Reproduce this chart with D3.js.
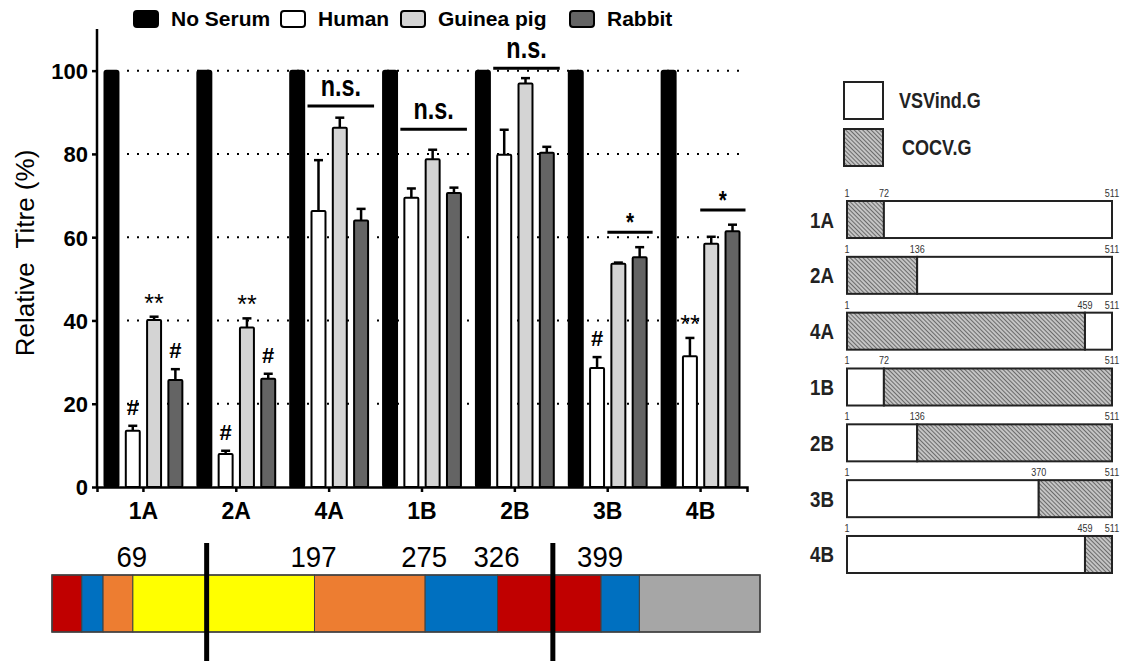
<!DOCTYPE html>
<html>
<head>
<meta charset="utf-8">
<script src="https://cdn.jsdelivr.net/npm/d3@7"></script>
<style>
  body { margin: 0; background: #fff; }
  svg { display: block; }
  text { font-family: Arial, "Liberation Sans", sans-serif; }
</style>
</head>
<body>
<svg width="1125" height="661"></svg>
<script>
// ---- data ----
const categories = ["1A", "2A", "4A", "1B", "2B", "3B", "4B"];
const seriesNames = ["No Serum", "Human", "Guinea pig", "Rabbit"];
const seriesColors = ["#000000", "#ffffff", "#d4d4d4", "#646464"];

const noSerum = [100, 100, 100, 100, 100, 100, 100];
const noSerumErr = [0, 0, 0, 0, 0, 0, 0];
const human = [13.5, 7.9, 66.3, 69.5, 79.8, 28.6, 31.4];
const humanErr = [1.2, 0.8, 12.2, 2.2, 6.0, 2.6, 4.4];
const guinea = [40.1, 38.3, 86.3, 78.7, 96.9, 53.6, 58.4];
const guineaErr = [0.8, 2.2, 2.4, 2.3, 1.3, 0.3, 1.7];
const rabbit = [25.7, 26.0, 64.0, 70.6, 80.3, 55.2, 61.4];
const rabbitErr = [2.6, 1.2, 2.8, 1.3, 1.4, 2.4, 1.6];

const yTicks = [0, 20, 40, 60, 80, 100];

// marks over single bars
const barMarks = [
  { cat: "1A", series: "Human", text: "#" },
  { cat: "1A", series: "Guinea pig", text: "**" },
  { cat: "1A", series: "Rabbit", text: "#" },
  { cat: "2A", series: "Human", text: "#" },
  { cat: "2A", series: "Guinea pig", text: "**" },
  { cat: "2A", series: "Rabbit", text: "#" },
  { cat: "3B", series: "Human", text: "#" },
  { cat: "4B", series: "Human", text: "**" }
];
// significance bars (level in % units)
const brackets = [
  { cat: "4A", from: "Human", to: "Rabbit", level: 91.5, text: "n.s." },
  { cat: "1B", from: "Human", to: "Rabbit", level: 85.9, text: "n.s." },
  { cat: "2B", from: "Human", to: "Rabbit", level: 100.6, text: "n.s." },
  { cat: "3B", from: "Guinea pig", to: "Rabbit", level: 61.2, text: "*" },
  { cat: "4B", from: "Guinea pig", to: "Rabbit", level: 66.5, text: "*" }
];

// domain bar under the chart (residue numbers)
const segBreaks = [12, 33, 48, 69, 197, 275, 326, 399, 426, 511];
const segColors = ["#c00000", "#0070c0", "#ed7d31", "#ffff00", "#ed7d31", "#0070c0", "#c00000", "#0070c0", "#a6a6a6"];
const segLabels = [69, 197, 275, 326, 399];
const cutSites = [121, 365];

// chimera maps on the right
const constructs = ["1A", "2A", "4A", "1B", "2B", "3B", "4B"];
const junctions = [72, 136, 459, 72, 136, 370, 459];
const cocvFirst = [true, true, true, false, false, false, false];
const proteinLength = 511;

// ---- chart ----
const svg = d3.select("svg");

const values = [noSerum, human, guinea, rabbit];
const errors = [noSerumErr, humanErr, guineaErr, rabbitErr];

const y = d3.scaleLinear().domain([0, 110]).range([487, 29]);
const x0 = d3.scaleBand().domain(categories).range([97, 747])
  .paddingInner(0.14).paddingOuter(0.07);
const x1 = d3.scaleBand().domain(seriesNames).range([0, x0.bandwidth()])
  .paddingInner(0.25).paddingOuter(0);

// dotted grid
svg.append("g")
  .selectAll("line")
  .data(yTicks.filter(d => d > 0))
  .join("line")
  .attr("x1", x0.range()[0] + 30)
  .attr("x2", x0.range()[1])
  .attr("y1", d => y(d))
  .attr("y2", d => y(d))
  .attr("stroke", "#000")
  .attr("stroke-width", 2)
  .attr("stroke-dasharray", "2,8");

// bars
const groups = svg.append("g")
  .selectAll("g")
  .data(categories)
  .join("g")
  .attr("transform", d => `translate(${x0(d)},0)`);

groups.each(function (cat, ci) {
  const g = d3.select(this);
  seriesNames.forEach((s, si) => {
    const v = values[si][ci];
    const e = errors[si][ci];
    const bx = x1(s);
    const bw = x1.bandwidth();
    if (e > 0) {
      g.append("line")
        .attr("x1", bx + bw / 2).attr("x2", bx + bw / 2)
        .attr("y1", y(v)).attr("y2", y(v + e))
        .attr("stroke", "#000").attr("stroke-width", 2.5);
      g.append("line")
        .attr("x1", bx + bw / 2 - 4.5).attr("x2", bx + bw / 2 + 4.5)
        .attr("y1", y(v + e)).attr("y2", y(v + e))
        .attr("stroke", "#000").attr("stroke-width", 2.5);
    }
    g.append("rect")
      .attr("x", bx + 1)
      .attr("y", y(v))
      .attr("width", bw - 2)
      .attr("height", y(0) - y(v))
      .attr("rx", si === 0 ? 2 : 1)
      .attr("fill", seriesColors[si])
      .attr("stroke", "#000")
      .attr("stroke-width", 2);
  });
});

// axes
const yAxis = svg.append("g")
  .attr("transform", `translate(${x0.range()[0]},0)`)
  .call(d3.axisLeft(y).tickValues(yTicks).tickSize(5).tickPadding(4));
const xAxis = svg.append("g")
  .attr("transform", `translate(0,${y(0)})`)
  .call(d3.axisBottom(x0).tickSize(5).tickPadding(6));

[yAxis, xAxis].forEach(a => {
  a.select(".domain").attr("stroke", "#000").attr("stroke-width", 2.5);
  a.selectAll(".tick line").attr("stroke", "#000").attr("stroke-width", 2.5);
  a.selectAll(".tick text")
    .attr("fill", "#000")
    .style("font-family", "Arial, 'Liberation Sans', sans-serif")
    .style("font-weight", "bold");
});
yAxis.select(".domain").attr("d", `M0,${y(110)}V${y(0)}`);
yAxis.selectAll(".tick text").style("font-size", "22px").attr("dy", "0.36em");
xAxis.selectAll(".tick text").style("font-size", "23px").attr("dy", "0.9em");

svg.append("text")
  .attr("transform", `translate(34,${(y(0) + y(110)) / 2 - 5}) rotate(-90)`)
  .attr("text-anchor", "middle")
  .style("font-size", "26px")
  .style("white-space", "pre")
  .text("Relative  Titre (%)");

// marks above bars
const errTop = (cat, s) => {
  const ci = categories.indexOf(cat), si = seriesNames.indexOf(s);
  return y(values[si][ci] + errors[si][ci]);
};
svg.append("g")
  .selectAll("text")
  .data(barMarks)
  .join("text")
  .attr("x", d => x0(d.cat) + x1(d.series) + x1.bandwidth() / 2)
  .attr("y", d => errTop(d.cat, d.series) - (d.text === "#" ? 11 : 5))
  .attr("text-anchor", "middle")
  .style("font-weight", d => d.text === "#" ? "bold" : "normal")
  .style("font-size", d => d.text === "#" ? "22px" : "25px")
  .text(d => d.text);

const br = svg.append("g")
  .selectAll("g")
  .data(brackets)
  .join("g");
br.append("line")
  .attr("x1", d => x0(d.cat) + x1(d.from) - 3)
  .attr("x2", d => x0(d.cat) + x1(d.to) + x1.bandwidth() + 5)
  .attr("y1", d => y(d.level))
  .attr("y2", d => y(d.level))
  .attr("stroke", "#000")
  .attr("stroke-width", 3);
br.append("text")
  .attr("transform", d => {
    const tx = x0(d.cat) + (x1(d.from) + x1(d.to) + x1.bandwidth()) / 2 + 1;
    const ty = y(d.level) - (d.text === "*" ? 1 : 10);
    return `translate(${tx},${ty}) scale(0.9,1.12)`;
  })
  .attr("text-anchor", "middle")
  .style("font-weight", "bold")
  .style("font-size", d => d.text === "*" ? "23px" : "26px")
  .text(d => d.text);

// legend
const legendX = [133, 280, 400, 569];
const legend = svg.append("g")
  .selectAll("g")
  .data(seriesNames)
  .join("g")
  .attr("transform", (d, i) => `translate(${legendX[i]},10)`);
legend.append("rect")
  .attr("x", 1).attr("y", 1)
  .attr("width", 24).attr("height", 16)
  .attr("rx", 3)
  .attr("fill", (d, i) => seriesColors[i])
  .attr("stroke", "#000")
  .attr("stroke-width", 2);
legend.append("text")
  .attr("x", 38)
  .attr("y", 16)
  .style("font-size", "21px")
  .style("font-weight", "bold")
  .text(d => d);

// ---- domain bar ----
const xd = d3.scaleLinear().domain([segBreaks[0], segBreaks[segBreaks.length - 1]]).range([52, 760]);
const segTop = 575, segH = 57;
svg.append("g")
  .selectAll("rect")
  .data(segColors)
  .join("rect")
  .attr("x", (d, i) => xd(segBreaks[i]))
  .attr("y", segTop)
  .attr("width", (d, i) => xd(segBreaks[i + 1]) - xd(segBreaks[i]))
  .attr("height", segH)
  .attr("fill", d => d)
  .attr("stroke", "#404040")
  .attr("stroke-width", 1);
svg.append("rect")
  .attr("x", xd.range()[0]).attr("y", segTop)
  .attr("width", xd.range()[1] - xd.range()[0]).attr("height", segH)
  .attr("fill", "none").attr("stroke", "#404040").attr("stroke-width", 1.5);
svg.append("g")
  .selectAll("text")
  .data(segLabels)
  .join("text")
  .attr("transform", d => `translate(${xd(d) - 1},567) scale(0.92,1)`)
  .attr("text-anchor", "middle")
  .style("font-size", "30px")
  .text(d => d);
svg.append("g")
  .selectAll("line")
  .data(cutSites)
  .join("line")
  .attr("x1", d => xd(d)).attr("x2", d => xd(d))
  .attr("y1", 543).attr("y2", 661)
  .attr("stroke", "#000")
  .attr("stroke-width", 5);

// ---- chimera maps ----
const defs = svg.append("defs");
const pat = defs.append("pattern")
  .attr("id", "hatch")
  .attr("patternUnits", "userSpaceOnUse")
  .attr("width", 3).attr("height", 3)
  .attr("patternTransform", "rotate(-45)");
pat.append("rect").attr("width", 3).attr("height", 3).attr("fill", "#c4c4c4");
pat.append("line").attr("x1", 0).attr("y1", 0).attr("x2", 0).attr("y2", 3)
  .attr("stroke", "#3a3a3a").attr("stroke-width", 1.3);

const legendMap = [
  { name: "VSVind.G", fill: "#fff", tx: 899 },
  { name: "COCV.G", fill: "url(#hatch)", tx: 902 }
];
const lm = svg.append("g")
  .selectAll("g")
  .data(legendMap)
  .join("g")
  .attr("transform", (d, i) => `translate(844,${82 + i * 47})`);
lm.append("rect")
  .attr("width", 39).attr("height", 37)
  .attr("fill", d => d.fill)
  .attr("stroke", "#222").attr("stroke-width", 2);
lm.append("text")
  .attr("transform", d => `translate(${d.tx - 844},26) scale(0.82,1)`)
  .style("font-weight", "bold")
  .style("font-size", "22px")
  .attr("fill", "#222")
  .text(d => d.name);

const xm = d3.scaleLinear().domain([1, proteinLength]).range([847, 1112]);
const ym = d3.scaleBand().domain(constructs).range([201, 573]).paddingInner(0.337).paddingOuter(0);

const rows = svg.append("g")
  .selectAll("g")
  .data(constructs)
  .join("g")
  .attr("transform", d => `translate(0,${ym(d)})`);

rows.each(function (c, i) {
  const g = d3.select(this);
  const h = ym.bandwidth();
  const j = junctions[i];
  const parts = [
    { a: 1, b: j, cocv: cocvFirst[i] },
    { a: j, b: proteinLength, cocv: !cocvFirst[i] }
  ];
  parts.forEach(p => {
    g.append("rect")
      .attr("x", xm(p.a)).attr("y", 0)
      .attr("width", xm(p.b) - xm(p.a)).attr("height", h)
      .attr("fill", p.cocv ? "url(#hatch)" : "#fff")
      .attr("stroke", "#222").attr("stroke-width", 2);
  });
  g.append("text")
    .attr("transform", `translate(834,${h / 2 + 8}) scale(0.85,1)`)
    .attr("text-anchor", "end")
    .style("font-weight", "bold")
    .style("font-size", "22px")
    .attr("fill", "#222")
    .text(c);
  g.selectAll("text.num")
    .data([1, j, proteinLength])
    .join("text")
    .attr("class", "num")
    .attr("transform", d => `translate(${xm(d)},-4) scale(0.82,1)`)
    .attr("text-anchor", "middle")
    .style("font-size", "11px")
    .attr("fill", "#333")
    .text(d => d);
});
</script>
</body>
</html>
